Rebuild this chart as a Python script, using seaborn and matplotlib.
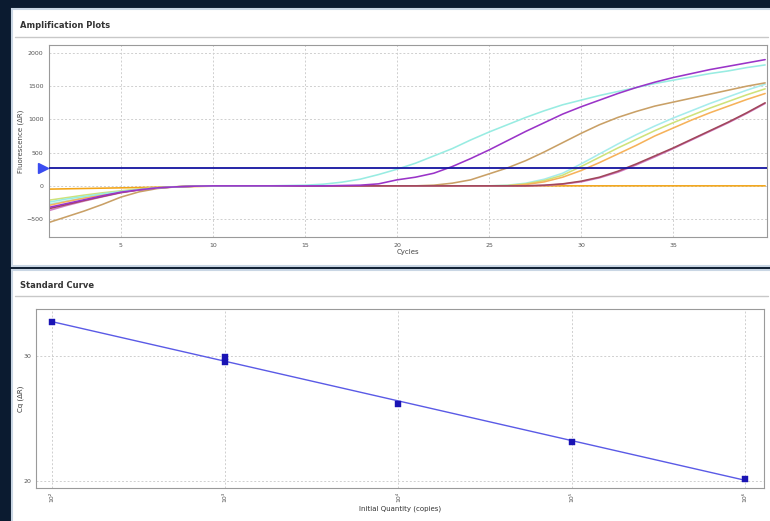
import numpy as np
import pandas as pd
import matplotlib
matplotlib.use("Agg")
import matplotlib.pyplot as plt
import seaborn as sns
from matplotlib.patches import Rectangle
from matplotlib.lines import Line2D
from matplotlib.transforms import blended_transform_factory

# ---------------- data ----------------
cycles = list(range(1, 41))
cyan_early = [-250, -200, -160, -120, -85, -55, -30, -15, -5, 0,
              0, 0, 0, 5, 10, 25, 55, 100, 170, 250,
              340, 450, 560, 690, 810, 920, 1030, 1130, 1220, 1290,
              1360, 1420, 1480, 1540, 1590, 1640, 1690, 1730, 1780, 1820]
purple = [-330, -270, -210, -150, -95, -60, -30, -15, -5, 0,
          0, 0, 0, 0, 0, 0, 5, 10, 30, 90,
          130, 190, 290, 410, 540, 680, 820, 950, 1080, 1190,
          1290, 1390, 1480, 1560, 1630, 1690, 1750, 1800, 1850, 1900]
tan = [-560, -470, -380, -280, -170, -90, -40, -15, -5, 0,
       0, 0, 0, 0, 0, 0, 0, 0, 0, 0,
       0, 10, 40, 90, 180, 270, 380, 510, 650, 790,
       920, 1030, 1120, 1200, 1260, 1320, 1380, 1440, 1500, 1550]
cyan_late = [-280, -230, -180, -130, -90, -55, -30, -15, -5, 0,
             0, 0, 0, 0, 0, 0, 0, 0, 0, 0,
             0, 0, 0, 0, 0, 10, 40, 100, 190, 330,
             480, 630, 770, 900, 1020, 1130, 1240, 1340, 1440, 1530]
yellow_green = [-220, -180, -140, -105, -75, -45, -25, -12, -5, 0,
                0, 0, 0, 0, 0, 0, 0, 0, 0, 0,
                0, 0, 0, 0, 0, 5, 30, 80, 160, 290,
                430, 570, 700, 830, 950, 1060, 1170, 1270, 1370, 1460]
orange = [-300, -240, -185, -135, -90, -55, -30, -15, -5, 0,
          0, 0, 0, 0, 0, 0, 0, 0, 0, 0,
          0, 0, 0, 0, 0, 0, 20, 60, 130, 230,
          350, 480, 610, 750, 870, 990, 1100, 1200, 1300, 1390]
maroon = [-350, -285, -220, -160, -100, -60, -30, -15, -5, 0,
          0, 0, 0, 0, 0, 0, 0, 0, 0, 0,
          0, 0, 0, 0, 0, 0, 0, 10, 30, 70,
          130, 220, 330, 450, 570, 700, 830, 960, 1100, 1250]
pink = [-380, -300, -230, -165, -105, -62, -32, -15, -5, 0,
        0, 0, 0, 0, 0, 0, 0, 0, 0, 0,
        0, 0, 0, 0, 0, 0, 0, 5, 25, 60,
        120, 205, 315, 435, 560, 690, 820, 950, 1090, 1240]
ntc = [-50, -45, -40, -35, -30, -25, -20, -15, -10, -5,
       0, 0, 0, 0, 0, 0, 0, 0, 0, 0,
       0, 0, 0, 0, 0, 0, 0, 0, 0, 0,
       0, 0, 0, 0, 0, 0, 0, 0, 0, 0]
threshold = 270

amp_series = {
    "NTC": ntc,
    "cyan_late": cyan_late,
    "yellow_green": yellow_green,
    "orange": orange,
    "tan": tan,
    "pink": pink,
    "maroon": maroon,
    "cyan_early": cyan_early,
    "purple": purple,
}
amp_colors = {
    "NTC": "#f2a416",
    "cyan_late": "#a6ecec",
    "yellow_green": "#cfe27a",
    "orange": "#f6b25a",
    "tan": "#c9a066",
    "pink": "#d27ac4",
    "maroon": "#a0485a",
    "cyan_early": "#98ece2",
    "purple": "#9a34c8",
}

log_quantity = [2, 3, 3, 4, 5, 6]
cq_values = [32.7, 29.9, 29.5, 26.2, 23.1, 20.2]
sc_tick_pos = [2, 3, 4, 5, 6]
sc_tick_labels = ["10²", "10³", "10⁴", "10⁵", "10⁶"]

# ---------------- figure ----------------
sns.set_theme(style="white")
plt.rcParams['font.family'] = ['DejaVu Sans']

W, H = 770, 521
fig = plt.figure(figsize=(7.7, 5.21), dpi=100, facecolor="#0b1b30")

def rect(x0, y0, x1, y1):
    return [x0 / W, 1 - y1 / H, (x1 - x0) / W, (y1 - y0) / H]

# panels
for (x0, y0, x1, y1) in [(12, 9, 772, 266), (12, 270, 772, 523)]:
    fig.patches.append(Rectangle((x0 / W, 1 - y1 / H), (x1 - x0) / W, (y1 - y0) / H,
                                 transform=fig.transFigure, facecolor="white",
                                 edgecolor="#c9d6e4", lw=1.5, zorder=-5))
for yy in [37, 296]:
    fig.add_artist(Line2D([15 / W, 768 / W], [1 - yy / H, 1 - yy / H],
                          transform=fig.transFigure, color="#c8c8c8", lw=1))
fig.text(20 / W, 1 - 25 / H, "Amplification Plots", fontsize=6, fontweight="bold",
         color="#333333", va="center", ha="left")
fig.text(20 / W, 1 - 285 / H, "Standard Curve", fontsize=6, fontweight="bold",
         color="#333333", va="center", ha="left")

grid_kw = dict(color="#cfcfcf", ls=(0, (2, 2)), lw=0.7)

# ---- amplification plot ----
ax1 = fig.add_axes(rect(49, 45, 767, 237))
ax1.set_zorder(2)
df = pd.DataFrame([(name, c, v) for name, vals in amp_series.items()
                   for c, v in zip(cycles, vals)], columns=["well", "cycle", "dR"])
sns.lineplot(data=df, x="cycle", y="dR", hue="well", palette=amp_colors,
             hue_order=list(amp_series.keys()), legend=False, lw=1.15, ax=ax1)
ax1.axhline(threshold, color="#1414a0", lw=1.3, zorder=5)
trans = blended_transform_factory(ax1.transAxes, ax1.transData)
ax1.plot([-0.008], [threshold], marker=">", ms=7, color="#3a4cf0",
         transform=trans, clip_on=False, zorder=6)
ax1.set_xlim(1.1, 40.1)
ax1.set_ylim(-770, 2120)
ax1.set_xticks([5, 10, 15, 20, 25, 30, 35])
ax1.set_yticks([-500, 0, 500, 1000, 1500, 2000])
ax1.grid(True, **grid_kw)
ax1.set_xlabel("Cycles", fontsize=5, color="#444444", labelpad=1)
ax1.set_ylabel("Fluorescence (ΔR)", fontsize=5, color="#444444", labelpad=2)
ax1.tick_params(labelsize=4.5, colors="#555555", length=0, pad=4)
for s in ax1.spines.values():
    s.set_color("#9a9a9a")
    s.set_linewidth(0.8)

# ---- standard curve ----
ax2 = fig.add_axes(rect(36, 309, 764, 488))
ax2.set_zorder(2)
sc = pd.DataFrame({"logq": log_quantity, "cq": cq_values})
sns.regplot(data=sc, x="logq", y="cq", ci=None, scatter=False, truncate=True,
            line_kws=dict(color="#5a5ae6", lw=1.0), ax=ax2)
sns.scatterplot(data=sc, x="logq", y="cq", marker="s", s=18, color="#1a14b4",
                edgecolor="#1a14b4", linewidth=0.3, zorder=5, ax=ax2)
ax2.set_xlim(1.908, 6.11)
ax2.set_ylim(19.44, 33.76)
ax2.set_xticks(sc_tick_pos)
ax2.set_xticklabels(sc_tick_labels, rotation=90, fontsize=4.5, color="#555555")
ax2.set_yticks([20, 30])
ax2.grid(True, **grid_kw)
ax2.set_xlabel("Initial Quantity (copies)", fontsize=5, color="#333333", labelpad=2)
ax2.set_ylabel("Cq (ΔR)", fontsize=5, color="#333333", labelpad=0)
ax2.tick_params(labelsize=4.5, colors="#555555", length=0, pad=3)
for s in ax2.spines.values():
    s.set_color("#9a9a9a")
    s.set_linewidth(0.8)

fig.savefig("out.png", dpi=100, facecolor=fig.get_facecolor())
